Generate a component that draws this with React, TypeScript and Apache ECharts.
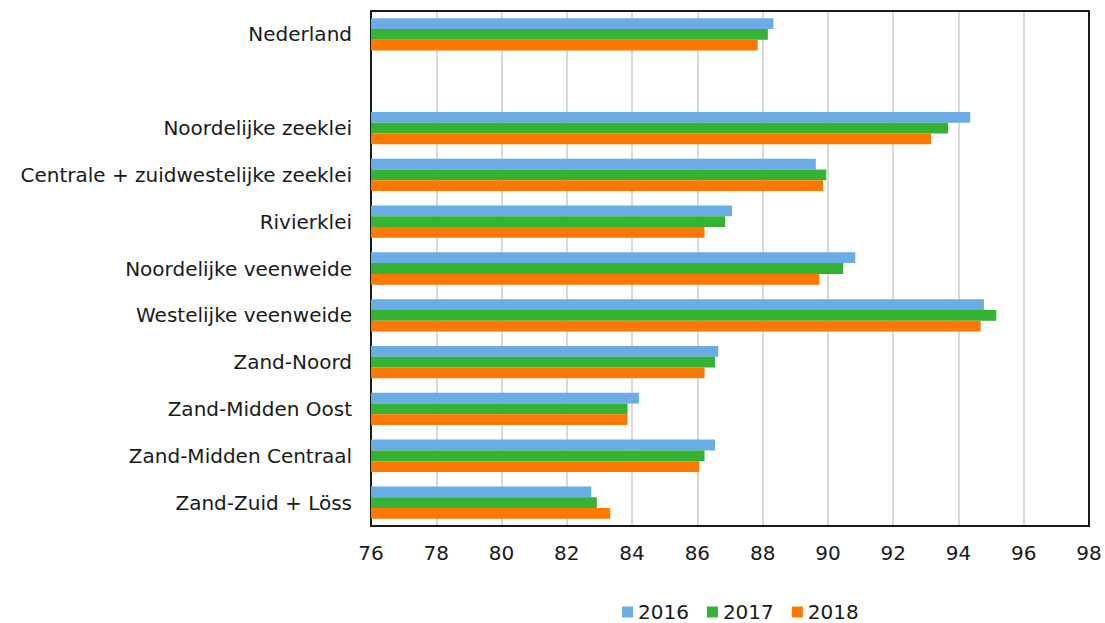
import React, { useEffect, useRef } from "react";
import * as echarts from "echarts";

const categories = [
  "Nederland",
  "",
  "Noordelijke zeeklei",
  "Centrale + zuidwestelijke zeeklei",
  "Rivierklei",
  "Noordelijke veenweide",
  "Westelijke veenweide",
  "Zand-Noord",
  "Zand-Midden Oost",
  "Zand-Midden Centraal",
  "Zand-Zuid + Löss",
];

const years = ["2016", "2017", "2018"];

const values2016 = [88.33, null, 94.36, 89.63, 87.06, 90.84, 94.78, 86.64, 84.21, 86.54, 82.75];
const values2017 = [88.16, null, 93.68, 89.95, 86.85, 90.47, 95.16, 86.54, 83.86, 86.22, 82.92];
const values2018 = [87.85, null, 93.16, 89.85, 86.22, 89.74, 94.68, 86.22, 83.86, 86.06, 83.33];

const colors = ["#6aade4", "#33b233", "#ff7900"];

const FONT = "DejaVu Sans";
const TEXT = "#1a1a1a";

export default function App() {
  const ref = useRef<HTMLDivElement>(null);
  useEffect(() => {
    if (!ref.current) return;
    const chart = echarts.init(ref.current, null, { renderer: "svg" });
    const seriesData = [values2016, values2017, values2018];
    const borderLine = { show: true, onZero: false, lineStyle: { color: TEXT, width: 2 } };
    chart.setOption({
      animation: false,
      textStyle: { fontFamily: FONT },
      grid: {
        left: 371,
        right: 16,
        top: 11,
        bottom: 97,
      },
      legend: {
        data: years,
        top: 597,
        left: 617,
        icon: "rect",
        itemWidth: 11,
        itemHeight: 11,
        itemGap: 18,
        textStyle: { fontFamily: FONT, fontSize: 20, color: TEXT },
      },
      xAxis: [
        {
          type: "value",
          min: 76,
          max: 98,
          interval: 2,
          position: "bottom",
          axisLine: borderLine,
          axisTick: { show: false },
          axisLabel: { fontFamily: FONT, fontSize: 20, color: TEXT, margin: 17 },
          splitLine: { show: true, lineStyle: { color: "#d9d9d9", width: 2 } },
        },
        {
          type: "value",
          min: 76,
          max: 98,
          interval: 2,
          position: "top",
          axisLine: borderLine,
          axisTick: { show: false },
          axisLabel: { show: false },
          splitLine: { show: false },
        },
      ],
      yAxis: [
        {
          type: "category",
          data: categories,
          inverse: true,
          position: "left",
          axisLine: borderLine,
          axisTick: { show: false },
          axisLabel: { fontFamily: FONT, fontSize: 20, color: TEXT, margin: 19 },
          splitLine: { show: false },
        },
        {
          type: "category",
          data: categories,
          inverse: true,
          position: "right",
          axisLine: borderLine,
          axisTick: { show: false },
          axisLabel: { show: false },
          splitLine: { show: false },
        },
      ],
      series: years.map((y, i) => ({
        name: y,
        type: "bar",
        data: seriesData[i],
        barGap: "0%",
        barCategoryGap: "31%",
        itemStyle: { color: colors[i] },
      })),
    });
    return () => chart.dispose();
  }, []);
  return <div ref={ref} style={{ width: 1105, height: 623, position: "absolute", left: 0, top: 0 }} />;
}
